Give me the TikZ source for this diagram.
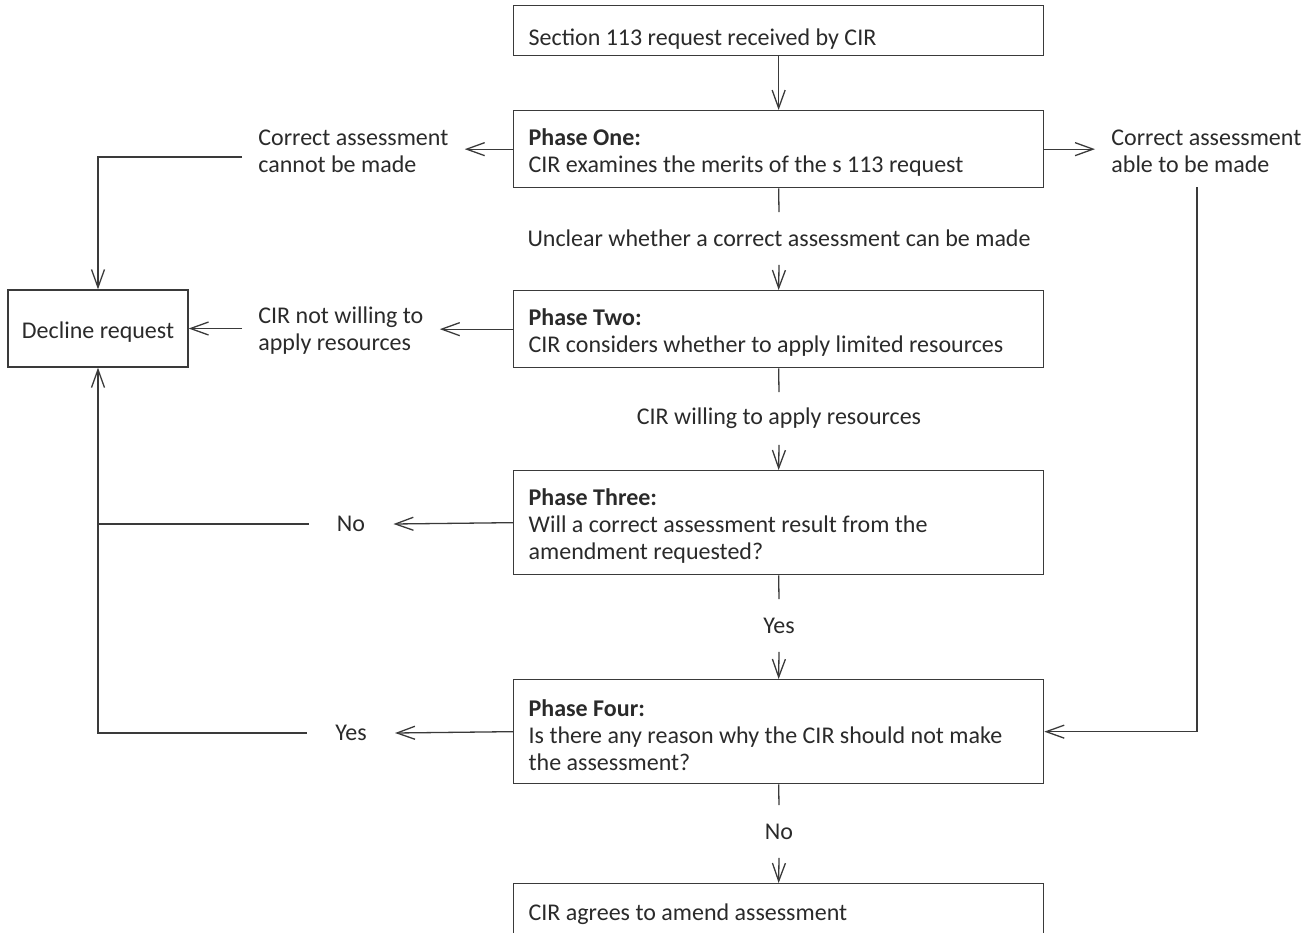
\documentclass[tikz,border=0pt]{standalone}
\usepackage{fontspec}
\setmainfont{Carlito}
\usetikzlibrary{arrows.meta}
\definecolor{ink}{HTML}{2A2A2A}
\definecolor{rule}{HTML}{3A3A3A}
\begin{document}
\begin{tikzpicture}[x=0.5pt,y=-0.5pt,
  font=\fontsize{12}{13.5}\selectfont,
  every node/.style={text=ink},
  stage/.style={draw=rule, line width=0.65pt, text width=250pt, inner xsep=7.5pt,
    inner ysep=0pt, align=left, anchor=north west,
    execute at begin node={\spaceskip=0pt\xspaceskip=0pt\rule{0pt}{12pt}}},
  endbox/.style={draw=rule, line width=0.65pt, minimum width=90pt, minimum height=38.5pt,
    inner sep=0pt, align=center, execute at begin node={\rule{0pt}{12pt}}},
  sidelbl/.style={inner xsep=8pt, inner ysep=0pt, align=left},
  shortlbl/.style={inner xsep=14pt, inner ysep=0pt},
  vlbl/.style={minimum height=26pt, inner sep=0pt},
  conn/.style={draw=rule, line width=0.65pt},
  arr/.style={conn, -{Straight Barb[length=9pt,width=6.5pt,line width=0.65pt]}}]
\useasboundingbox (0,0) rectangle (1314,933);

% process boxes
\node[stage, minimum height=25pt] (start) at (513,5) {\rule{0pt}{17pt}Section 113 request received by CIR};
\node[stage, minimum height=38.5pt] (p1) at (513,110)
  {\textbf{Phase One:}\\CIR examines the merits of the s 113 request};
\node[stage, minimum height=38.5pt] (p2) at (513,290)
  {\textbf{Phase Two:}\\CIR considers whether to apply limited resources};
\node[stage, minimum height=52pt] (p3) at (513,470)
  {\textbf{Phase Three:}\\Will a correct assessment result from the\\amendment requested?};
\node[stage, minimum height=52pt] (p4) at (513,679)
  {\textbf{Phase Four:}\\Is there any reason why the CIR should not make\\the assessment?};
\node[stage, minimum height=27pt] (agree) at (513,883) {CIR agrees to amend assessment};
\node[endbox] (decline) at (98,328.5) {Decline request};

% branch labels
\node[sidelbl, anchor=west] (cannot) at (242,151) {Correct assessment\\cannot be made};
\node[sidelbl, anchor=west] (able) at (1095,151) {Correct assessment\\able to be made};
\node[sidelbl, anchor=west] (notwill) at (242,331) {CIR not willing to\\apply resources};
\node[shortlbl] (no3) at (351,524) {No};
\node[shortlbl] (yes4) at (351,733) {Yes};
\node[vlbl] (unclear) at (779,238.5) {Unclear whether a correct assessment can be made};
\node[vlbl] (willing) at (779,418.5) {CIR willing to apply resources};
\node[vlbl] (yes3) at (779,625.5) {Yes};
\node[vlbl] (no4) at (779,831.5) {No};
\coordinate (rdrop) at (1197,187);

% main column
\draw[arr] (start.south) -- (p1.north);
\draw[conn] (p1.south) -- (unclear.north);
\draw[arr] (unclear.south) -- (p2.north);
\draw[conn] (p2.south) -- (willing.north);
\draw[arr] (willing.south) -- (p3.north);
\draw[conn] (p3.south) -- (yes3.north);
\draw[arr] (yes3.south) -- (p4.north);
\draw[conn] (p4.south) -- (no4.north);
\draw[arr] (no4.south) -- (agree.north);

% Phase One branches
\draw[arr] (p1.west) -- (p1.west -| cannot.east);
\draw[arr] (cannot.west |- 0,157) -| (decline.north);
\draw[arr] (p1.east) -- (p1.east -| able.west);
\draw[arr] (rdrop) |- (p4.east);

% Phase Two branch
\draw[arr] (p2.west) -- (p2.west -| notwill.east);
\draw[arr] (notwill.west |- decline.east) -- (decline.east);

% Phase Three and Four branches
\draw[arr] (p3.west) -- (no3.east);
\draw[arr] (p4.west) -- (yes4.east);
\draw[conn] (no3.west) -- (no3.west -| decline.south);
\draw[arr] (yes4.west) -| (decline.south);
\end{tikzpicture}
\end{document}
